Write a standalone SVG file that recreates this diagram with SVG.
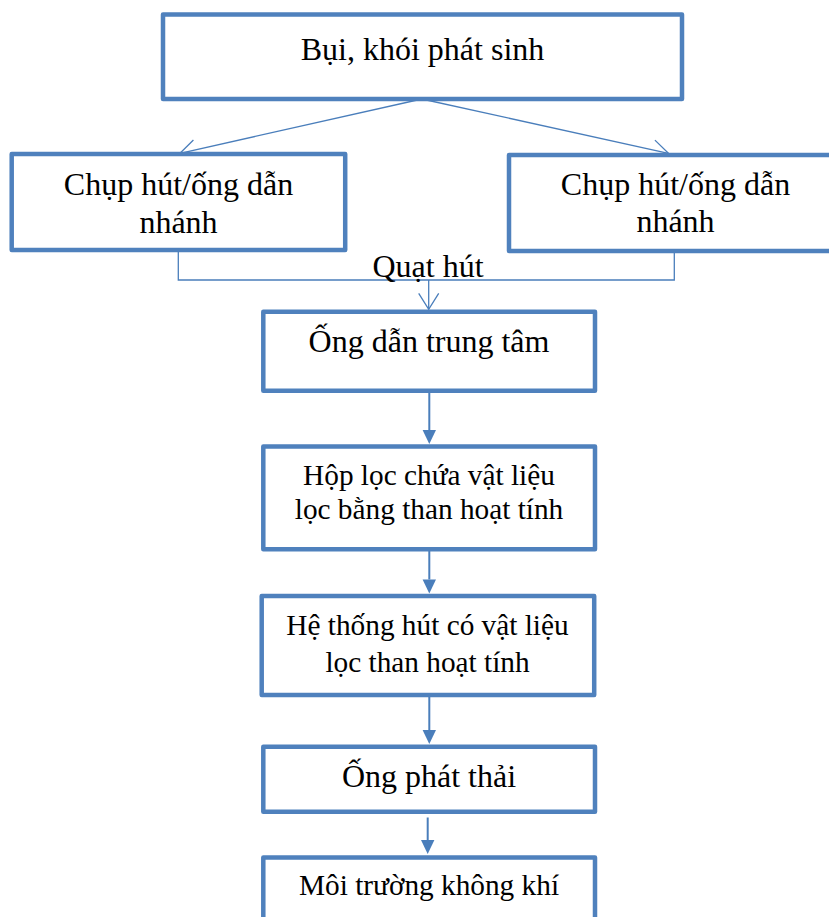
<svg xmlns="http://www.w3.org/2000/svg" width="829" height="917" viewBox="0 0 829 917">
  <style>
    .box { fill: #ffffff; stroke: #4F81BD; stroke-width: 4.5; stroke-linejoin: round; }
    .lbl { font-family: "Liberation Serif", "Times New Roman", serif; fill: #000000; text-anchor: middle; }
    .big { font-size: 32px; }
    .mid { font-size: 29.3px; }
    .thin { fill: none; stroke: #4A7EBB; stroke-width: 1.3; }
    .flow { fill: none; stroke: #4A7EBB; stroke-width: 2; }
  </style>
  <defs>
    <!-- open V-shaped head for the thin duct lines -->
    <marker id="open" markerUnits="userSpaceOnUse" markerWidth="40" markerHeight="40" viewBox="-20 -20 40 40" refX="0" refY="0" orient="auto" overflow="visible">
      <path d="M-16,-10 L0,0 L-16,10" fill="none" stroke="#4A7EBB" stroke-width="1.3"/>
    </marker>
    <!-- solid triangular head for the main flow; tip sits 14px past the line end -->
    <marker id="solid" markerUnits="userSpaceOnUse" markerWidth="30" markerHeight="30" viewBox="-5 -15 30 30" refX="0" refY="0" orient="auto" overflow="visible">
      <path d="M0,-6.7 L14,0 L0,6.7 Z" fill="#4A7EBB"/>
    </marker>
  </defs>

  <g id="connectors">
    <path class="thin" d="M421.8,99 L180,153.3" marker-end="url(#open)"/>
    <path class="thin" d="M421.8,99 L668.4,153.3" marker-end="url(#open)"/>
    <path class="thin" d="M178.3,251 V280 H674.3 V252"/>
    <path class="thin" d="M428.7,280 V309.3" marker-end="url(#open)"/>
    <path class="flow" d="M429.3,393 V430" marker-end="url(#solid)"/>
    <path class="flow" d="M429.3,551 V579.5" marker-end="url(#solid)"/>
    <path class="flow" d="M429.3,697 V730" marker-end="url(#solid)"/>
    <path class="flow" d="M427.7,817.5 V840" marker-end="url(#solid)"/>
    <text class="lbl big" x="428" y="277">Quạt hút</text>
  </g>

  <g id="source">
    <rect class="box" x="163" y="14.5" width="519" height="84.5"/>
    <text class="lbl big" x="422.5" y="60">Bụi, khói phát sinh</text>
  </g>

  <g id="branch-left">
    <rect class="box" x="11.7" y="154" width="333.5" height="96"/>
    <text class="lbl big" x="178.5" y="195">Chụp hút/ống dẫn</text>
    <text class="lbl big" x="178.5" y="232.5">nhánh</text>
  </g>

  <g id="branch-right">
    <rect class="box" x="509" y="155" width="333" height="96"/>
    <text class="lbl big" x="675.5" y="195">Chụp hút/ống dẫn</text>
    <text class="lbl big" x="675.5" y="232">nhánh</text>
  </g>

  <g id="central-duct">
    <rect class="box" x="263.3" y="311.7" width="331.7" height="79"/>
    <text class="lbl big" x="429" y="352">Ống dẫn trung tâm</text>
  </g>

  <g id="filter-box">
    <rect class="box" x="263.3" y="446.5" width="331.7" height="102.7"/>
    <text class="lbl mid" x="429" y="485">Hộp lọc chứa vật liệu</text>
    <text class="lbl mid" x="429" y="518.5">lọc bằng than hoạt tính</text>
  </g>

  <g id="suction-system">
    <rect class="box" x="261.7" y="596" width="332.5" height="99"/>
    <text class="lbl mid" x="427.5" y="635">Hệ thống hút có vật liệu</text>
    <text class="lbl mid" x="427.5" y="672">lọc than hoạt tính</text>
  </g>

  <g id="stack">
    <rect class="box" x="263.3" y="746.7" width="331.7" height="65"/>
    <text class="lbl big" x="429" y="787">Ống phát thải</text>
  </g>

  <g id="ambient-air">
    <rect class="box" x="263.3" y="857.5" width="331.7" height="100"/>
    <text class="lbl mid" x="429" y="895">Môi trường không khí</text>
  </g>
</svg>
